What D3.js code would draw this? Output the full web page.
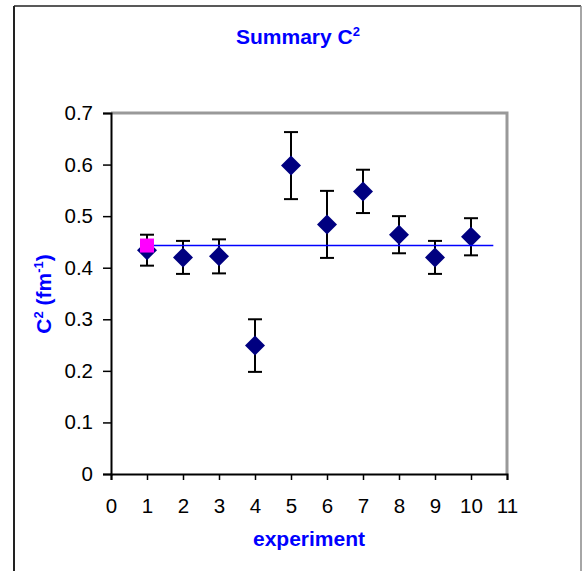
<!DOCTYPE html>
<html>
<head>
<meta charset="utf-8">
<script src="https://cdn.jsdelivr.net/npm/d3@7"></script>
<style>
  body { margin: 0; background: #fff; }
  svg { display: block; font-family: "Liberation Sans", Arial, sans-serif; }
</style>
</head>
<body>
<div id="chart"></div>
<script>
// data
const experiments = [1, 2, 3, 4, 5, 6, 7, 8, 9, 10];
const c2Values = [0.434, 0.420, 0.422, 0.249, 0.598, 0.484, 0.548, 0.464, 0.420, 0.460];
const c2Errors = [0.030, 0.032, 0.033, 0.051, 0.065, 0.065, 0.042, 0.036, 0.032, 0.036];
const meanValue = 0.443;
const meanLineX = [1, 10.62];
const xTicks = [0, 1, 2, 3, 4, 5, 6, 7, 8, 9, 10, 11];
const yTicks = [0, 0.1, 0.2, 0.3, 0.4, 0.5, 0.6, 0.7];

const points = experiments.map((x, i) => ({x: x, y: c2Values[i], err: c2Errors[i]}));

// initialization
const W = 582, H = 571;
const margin = {top: 113, right: 75, bottom: 97, left: 111};
const width = W - margin.left - margin.right;
const height = H - margin.top - margin.bottom;

const root = d3.select('#chart').append('svg')
    .attr('width', W)
    .attr('height', H);

// outer chart frame
root.append('line').attr('x1', 14).attr('y1', 6).attr('x2', 14).attr('y2', H)
    .attr('stroke', '#222').attr('stroke-width', 2);
root.append('line').attr('x1', 14).attr('y1', 6).attr('x2', 581).attr('y2', 6)
    .attr('stroke', '#222').attr('stroke-width', 1.5);
root.append('line').attr('x1', 581).attr('y1', 6).attr('x2', 581).attr('y2', H)
    .attr('stroke', '#888').attr('stroke-width', 1.5);

const svg = root.append('g')
    .attr('transform', 'translate(' + margin.left + ',' + margin.top + ')');

const xScale = d3.scaleLinear().domain([0, 11]).range([0, width]);
const yScale = d3.scaleLinear().domain([0, 0.7]).range([height, 0]);

// gray plot frame on top and right
svg.append('path')
    .attr('d', 'M0,0H' + width + 'V' + height)
    .attr('fill', 'none')
    .attr('stroke', '#999')
    .attr('stroke-width', 3);

const xAxis = d3.axisBottom(xScale)
    .tickValues(xTicks)
    .tickFormat(d3.format('d'))
    .tickSize(6)
    .tickPadding(18);

const yAxis = d3.axisLeft(yScale)
    .tickValues(yTicks)
    .tickFormat(d3.format('.1~f'))
    .tickSize(8)
    .tickPadding(10);

const xAxisGroup = svg.append('g')
    .attr('class', 'axis x-axis')
    .attr('transform', 'translate(0,' + height + ')')
    .call(xAxis);

const yAxisGroup = svg.append('g')
    .attr('class', 'axis y-axis')
    .call(yAxis);

[xAxisGroup, yAxisGroup].forEach(g => {
    g.select('.domain').attr('stroke', '#000').attr('stroke-width', 2);
    g.selectAll('.tick line').attr('stroke', '#000').attr('stroke-width', 1.5);
    g.selectAll('.tick text')
        .attr('fill', '#000')
        .style('font-size', '20.5px')
        .style('font-family', '"Liberation Sans", Arial, sans-serif');
});

// error bars
const capHalf = 7;
const bars = svg.append('g').attr('class', 'errors')
    .selectAll('g').data(points).join('g')
    .attr('stroke', '#000').attr('stroke-width', 2);
bars.append('line')
    .attr('x1', d => xScale(d.x)).attr('x2', d => xScale(d.x))
    .attr('y1', d => yScale(d.y + d.err)).attr('y2', d => yScale(d.y - d.err));
bars.append('line')
    .attr('x1', d => xScale(d.x) - capHalf).attr('x2', d => xScale(d.x) + capHalf)
    .attr('y1', d => yScale(d.y + d.err)).attr('y2', d => yScale(d.y + d.err));
bars.append('line')
    .attr('x1', d => xScale(d.x) - capHalf).attr('x2', d => xScale(d.x) + capHalf)
    .attr('y1', d => yScale(d.y - d.err)).attr('y2', d => yScale(d.y - d.err));

// diamonds
const diamond = d3.symbol().type(d3.symbolSquare).size(200);
svg.append('g').attr('class', 'points')
    .selectAll('path').data(points).join('path')
    .attr('d', diamond)
    .attr('transform', d => 'translate(' + xScale(d.x) + ',' + yScale(d.y) + ') rotate(45)')
    .attr('fill', '#000080');

// mean line
svg.append('line')
    .attr('x1', xScale(meanLineX[0])).attr('x2', xScale(meanLineX[1]))
    .attr('y1', yScale(meanValue)).attr('y2', yScale(meanValue))
    .attr('stroke', '#0000ff').attr('stroke-width', 1.5);

// mean marker
svg.append('rect')
    .attr('x', xScale(meanLineX[0]) - 7)
    .attr('y', yScale(meanValue) - 7)
    .attr('width', 14).attr('height', 14)
    .attr('fill', '#ff00ff');

// title
const title = root.append('text')
    .attr('x', 298).attr('y', 44)
    .attr('text-anchor', 'middle')
    .attr('fill', '#0000ff')
    .style('font-weight', 'bold')
    .style('font-size', '21px');
title.append('tspan').text('Summary C');
title.append('tspan').attr('dy', -8).style('font-size', '13px').text('2');

// axis labels
root.append('text')
    .attr('x', margin.left + width / 2).attr('y', 546)
    .attr('text-anchor', 'middle')
    .attr('fill', '#0000ff')
    .style('font-weight', 'bold')
    .style('font-size', '21px')
    .text('experiment');

const yLabel = root.append('text')
    .attr('transform', 'translate(51,' + 294 + ') rotate(-90)')
    .attr('text-anchor', 'middle')
    .attr('fill', '#0000ff')
    .style('font-weight', 'bold')
    .style('font-size', '21px');
yLabel.append('tspan').text('C');
yLabel.append('tspan').attr('dy', -8).style('font-size', '13px').text('2');
yLabel.append('tspan').attr('dy', 8).text(' (fm');
yLabel.append('tspan').attr('dy', -8).style('font-size', '13px').text('-1');
yLabel.append('tspan').attr('dy', 8).text(')');
</script>
</body>
</html>
